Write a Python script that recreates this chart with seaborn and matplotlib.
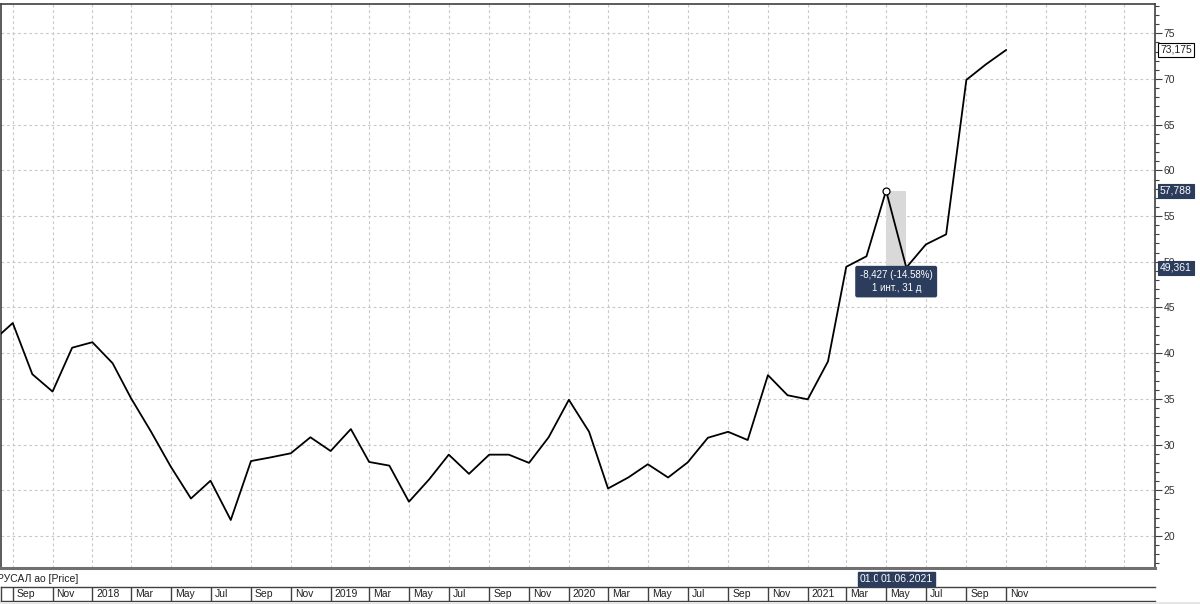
import numpy as np
import pandas as pd
import matplotlib
matplotlib.use("Agg")
import matplotlib.pyplot as plt
import matplotlib.dates as mdates
import matplotlib.transforms as mtransforms
from matplotlib.ticker import MultipleLocator, FixedLocator
import seaborn as sns

# ---------------- data ----------------
months = pd.date_range("2017-08-01", "2021-11-01", freq="MS")
prices = [
    41.3, 43.3, 37.7, 35.8, 40.6,                                            # 2017 Aug-Dec
    41.2, 38.9, 35.1, 31.4, 27.6, 24.1, 26.05, 21.75, 28.2, 28.6, 29.05, 30.8,  # 2018
    29.3, 31.7, 28.1, 27.7, 23.75, 26.2, 28.9, 26.8, 28.9, 28.9, 28.0, 30.8,    # 2019
    34.9, 31.4, 25.2, 26.4, 27.85, 26.4, 28.05, 30.75, 31.4, 30.5, 37.6, 35.4,  # 2020
    34.95, 39.1, 49.45, 50.6, 57.788, 49.361, 51.9, 53.0, 69.9, 71.6, 73.175,   # 2021 Jan-Nov
]
series_name = "РУСАЛ ао [Price]"
y_ticks = [20, 25, 30, 35, 40, 45, 50, 55, 60, 65, 70, 75]
hl_start, hl_end = pd.Timestamp("2021-05-01"), pd.Timestamp("2021-06-01")
measure_text = "-8,427 (-14.58%)\n1 инт., 31 д"
date_labels = ["01.05.2021", "01.06.2021"]

df = pd.DataFrame({"date": months, "price": prices})

# ---------------- style ----------------
sns.set_style("white")
plt.rcParams["font.family"] = ["Liberation Sans", "DejaVu Sans"]
plt.rcParams["font.size"] = 7.5

W, H = 1200, 604
fig = plt.figure(figsize=(W / 100, H / 100), dpi=100)
fig.patch.set_facecolor("white")

left_px, right_px, top_px, bottom_px = 1, 1155, 4, 568
ax = fig.add_axes([left_px / W, 1 - bottom_px / H, (right_px - left_px) / W, (bottom_px - top_px) / H])

sns.lineplot(data=df, x="date", y="price", ax=ax, color="black", linewidth=1.3, zorder=3)

xmin = pd.Timestamp("2017-08-14")
xmax = pd.Timestamp("2022-06-17")
ax.set_xlim(xmin, xmax)
ax.set_ylim(16.5, 78.2)
ax.set_xlabel("")
ax.set_ylabel("")

# grid
ax.xaxis.set_major_locator(mdates.MonthLocator(bymonth=[1, 3, 5, 7, 9, 11]))
ax.yaxis.set_major_locator(FixedLocator(y_ticks))
ax.yaxis.set_minor_locator(MultipleLocator(1))
ax.grid(True, which="major", color="#c8c8c8", linestyle=(0, (2.5, 2.5)), linewidth=0.8, zorder=0)
ax.tick_params(axis="x", bottom=False, labelbottom=False)
ax.yaxis.tick_right()
ax.tick_params(axis="y", which="major", length=5, width=0.8, color="#404040",
               labelcolor="#303030", labelsize=7.5, pad=1)
ax.tick_params(axis="y", which="minor", length=3, width=0.8, color="#404040")
ax.set_yticklabels([str(v) for v in y_ticks])

for s in ["top", "left", "right"]:
    ax.spines[s].set_color("#404040")
    ax.spines[s].set_linewidth(1.2)
ax.spines["bottom"].set_color("#707070")
ax.spines["bottom"].set_linewidth(2.2)

# highlighted interval
i0 = months.get_loc(hl_start)
i1 = months.get_loc(hl_end)
ax.fill_between([months[i0], months[i1]], prices[i1], prices[i0], color="#d9d9d9", zorder=1, linewidth=0)
ax.plot([months[i0]], [prices[i0]], marker="o", ms=5, mfc="white", mec="black", mew=0.9, zorder=4)

navy = "#2b3c5c"
mid = months[i0] + (months[i1] - months[i0]) / 2
ax.annotate(measure_text, xy=(mid, prices[i1]), xytext=(0, -14), textcoords="offset pixels",
            ha="center", va="center", color="white", fontsize=7, linespacing=1.3, zorder=6,
            bbox=dict(boxstyle="round,pad=0.4,rounding_size=0.15", fc=navy, ec=navy))

# right-side value labels
tr = mtransforms.blended_transform_factory(ax.transAxes, ax.transData)
xoff = 1 + 5 / (right_px - left_px)
ax.text(xoff, prices[-1], f"{prices[-1]:.3f}".replace(".", ","), transform=tr, ha="left", va="center",
        fontsize=7.5, color="#202020", clip_on=False, zorder=7,
        bbox=dict(boxstyle="square,pad=0.2", fc="white", ec="black", lw=0.8))
for v in (prices[i0], prices[i1]):
    ax.text(xoff, v, f"{v:.3f}".replace(".", ","), transform=tr, ha="left", va="center",
            fontsize=7.5, color="white", clip_on=False, zorder=7,
            bbox=dict(boxstyle="square,pad=0.2", fc=navy, ec=navy, lw=0.8))

# ---------------- bottom date strip ----------------
sax = fig.add_axes([left_px / W, 1 - 601 / H, (right_px - left_px) / W, 14 / H])
sax.set_xlim(xmin, xmax)
sax.set_ylim(0, 1)
sax.set_xticks([])
sax.set_yticks([])
sax.set_facecolor("white")
for s in ["top", "bottom", "left"]:
    sax.spines[s].set_color("#404040")
    sax.spines[s].set_linewidth(1.0)
sax.spines["right"].set_visible(False)

cells = pd.date_range("2017-09-01", "2021-11-01", freq="2MS")
sax.vlines(cells, 0, 1, color="#404040", linewidth=1.0)
for d in cells:
    lab = str(d.year) if d.month == 1 else d.strftime("%b")
    sax.annotate(lab, xy=(d, 0.5), xytext=(4, 0), textcoords="offset pixels",
                 ha="left", va="center", fontsize=7.5, color="#202020")

# series caption
fig.text(-3 / W, 1 - 579 / H, series_name, ha="left", va="center", fontsize=7.5, color="#202020")

# crosshair date labels
for lab, d in zip(date_labels, [hl_start, hl_end]):
    xf = fig.transFigure.inverted().transform(ax.transData.transform((mdates.date2num(d), 0)))[0]
    fig.text(xf, 1 - 579 / H, lab, ha="center", va="center", fontsize=7.5, color="white",
             bbox=dict(boxstyle="square,pad=0.2", fc=navy, ec=navy))

# thin gray band at very bottom
fig.patches.append(plt.Rectangle((0, 0), 1, 2.5 / H, transform=fig.transFigure, fc="#e6e6e6", ec="none"))

fig.savefig("out.png", dpi=100)
